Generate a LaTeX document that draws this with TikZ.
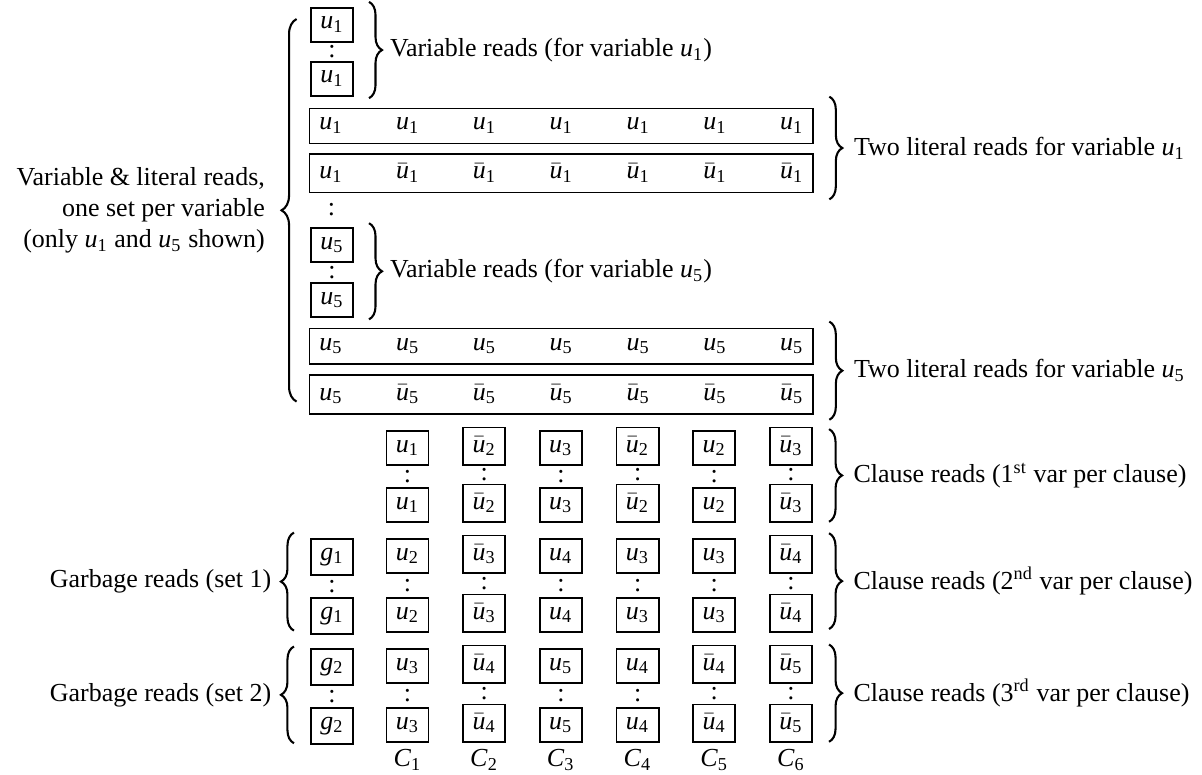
\documentclass[tikz,border=0pt]{standalone}
\usepackage{fontspec}
\setmainfont{Liberation Serif}
\usetikzlibrary{decorations.pathreplacing,fit,positioning}

\newcommand\lit[2]{\textit{#1}\textsubscript{#2}}
\newcommand\nlit[2]{$\bar{\mbox{\textit{#1}}}$\textsubscript{#2}}

\tikzset{
  rd/.style={draw,line width=0.7pt,minimum width=16.2pt,inner xsep=0pt,inner ysep=3.5pt,anchor=base},
  entry/.style={minimum width=16.2pt,inner xsep=0pt,inner ysep=3.5pt,anchor=base},
  litrow/.style={draw,line width=0.7pt,inner sep=0pt},
  rbrace/.style={decorate,decoration={brace,amplitude=5pt},line width=0.8pt},
  lbrace/.style={decorate,decoration={brace,amplitude=5pt},line width=0.8pt},
}

\begin{document}
\begin{tikzpicture}[x=0.385pt,y=-0.385pt]
\useasboundingbox (0,0) rectangle (1202,774);

% variable reads, u1
\node[rd] (v1a) at (332,29) {\lit{u}{1}};
\node[rd] (v1b) at (332,83) {\lit{u}{1}};
\path (v1a)--(v1b) node[midway] (v1d) {:};
\draw[rbrace] ([xshift=5.8pt,yshift=2pt]v1a.north east) -- ([xshift=5.8pt,yshift=-0.5pt]v1b.south east)
  node[midway,right=4.4pt] (v1t) {Variable reads (for variable \lit{u}{1})};

% literal reads, u1
\foreach \i in {1,...,7}
  \node[entry] (l1a-\i) at ({331+76.8*(\i-1)},130) {\lit{u}{1}};
\node[entry] (l1b-1) at (331,179) {\lit{u}{1}};
\foreach \i in {2,...,7}
  \node[entry] (l1b-\i) at ({331+76.8*(\i-1)},179) {\nlit{u}{1}};
\node[litrow,fit=(l1a-1)(l1a-7)] (l1a) {};
\node[litrow,fit=(l1b-1)(l1b-7)] (l1b) {};
\draw[rbrace] ([xshift=5.8pt,yshift=4.2pt]l1a.north east) -- ([xshift=5.8pt,yshift=-2.3pt]l1b.south east)
  node[midway,right=5.8pt] (l1t) {Two literal reads for variable \lit{u}{1}};

% variable reads, u5
\node[rd] (v5a) at (332,249) {\lit{u}{5}};
\node[rd] (v5b) at (332,304) {\lit{u}{5}};
\path (v5a)--(v5b) node[midway] (v5d) {:};
\path (l1b-1)--(v5a) node[midway] (md) {:};
\draw[rbrace] ([xshift=5.8pt,yshift=1.5pt]v5a.north east) -- ([xshift=5.8pt,yshift=-0.5pt]v5b.south east)
  node[midway,right=4.4pt] (v5t) {Variable reads (for variable \lit{u}{5})};

% literal reads, u5
\foreach \i in {1,...,7}
  \node[entry] (l5a-\i) at ({331+76.8*(\i-1)},350) {\lit{u}{5}};
\node[entry] (l5b-1) at (331,400) {\lit{u}{5}};
\foreach \i in {2,...,7}
  \node[entry] (l5b-\i) at ({331+76.8*(\i-1)},400) {\nlit{u}{5}};
\node[litrow,fit=(l5a-1)(l5a-7)] (l5a) {};
\node[litrow,fit=(l5b-1)(l5b-7)] (l5b) {};
\draw[rbrace] ([xshift=5.8pt,yshift=2.3pt]l5a.north east) -- ([xshift=5.8pt,yshift=-2pt]l5b.south east)
  node[midway,right=5.8pt] (l5t) {Two literal reads for variable \lit{u}{5}};

% one set per variable
\coordinate (blb) at ([xshift=-4.6pt,yshift=5pt]l5b.south west);
\coordinate (blt) at (blb |- v1a.north);
\draw[lbrace,decoration={amplitude=5.8pt}] (blb) -- ([yshift=-4.6pt]blt)
  node[midway,left=8.5pt,align=right] (vt) {Variable \& literal reads,\\one set per variable\\(only \lit{u}{1} and \lit{u}{5} shown)};

% clause reads
\foreach \lab [count=\i] in {{\lit{u}{1}},{\nlit{u}{2}},{\lit{u}{3}},{\nlit{u}{2}},{\lit{u}{2}},{\nlit{u}{3}}}{
  \node[rd] (c1a\i) at ({407.5+76.7*(\i-1)},452) {\lab};
  \node[rd] (c1b\i) at ({407.5+76.7*(\i-1)},509) {\lab};
  \path (c1a\i)--(c1b\i) node[midway] (c1d\i) {:};
}
\foreach \lab [count=\i] in {{\lit{u}{2}},{\nlit{u}{3}},{\lit{u}{4}},{\lit{u}{3}},{\lit{u}{3}},{\nlit{u}{4}}}{
  \node[rd] (c2a\i) at ({407.5+76.7*(\i-1)},560) {\lab};
  \node[rd] (c2b\i) at ({407.5+76.7*(\i-1)},619) {\lab};
  \path (c2a\i)--(c2b\i) node[midway] (c2d\i) {:};
}
\foreach \lab [count=\i] in {{\lit{u}{3}},{\nlit{u}{4}},{\lit{u}{5}},{\lit{u}{4}},{\nlit{u}{4}},{\nlit{u}{5}}}{
  \node[rd] (c3a\i) at ({407.5+76.7*(\i-1)},670) {\lab};
  \node[rd] (c3b\i) at ({407.5+76.7*(\i-1)},729) {\lab};
  \path (c3a\i)--(c3b\i) node[midway] (c3d\i) {:};
  \node[below=-1pt of c3b\i] (C\i) {\lit{C}{\i}};
}
\draw[rbrace] ([xshift=6.2pt,yshift=-1pt]c1a6.north east) -- ([xshift=6.2pt,yshift=0.5pt]c1b6.south east)
  node[midway,right=5.7pt] (c1t) {Clause reads (1\textsuperscript{st} var per clause)};
\draw[rbrace] ([xshift=6.2pt,yshift=0.5pt]c2a6.north east) -- ([xshift=6.2pt,yshift=1.5pt]c2b6.south east)
  node[midway,right=5.7pt] (c2t) {Clause reads (2\textsuperscript{nd} var per clause)};
\draw[rbrace] ([xshift=6.2pt]c3a6.north east) -- ([xshift=6.2pt,yshift=0.5pt]c3b6.south east)
  node[midway,right=5.7pt] (c3t) {Clause reads (3\textsuperscript{rd} var per clause)};

% garbage reads
\node[rd] (g1a) at (332,560) {\lit{g}{1}};
\node[rd] (g1b) at (332,619) {\lit{g}{1}};
\path (g1a)--(g1b) node[midway] (g1d) {:};
\node[rd] (g2a) at (332,670) {\lit{g}{2}};
\node[rd] (g2b) at (332,729) {\lit{g}{2}};
\path (g2a)--(g2b) node[midway] (g2d) {:};
\draw[lbrace] ([xshift=-6.2pt,yshift=1.5pt]g1b.south west) -- ([xshift=-6.2pt,yshift=2pt]g1a.north west)
  node[midway,left=5pt] (g1t) {Garbage reads (set 1)};
\draw[lbrace] ([xshift=-6.2pt,yshift=0.5pt]g2b.south west) -- ([xshift=-6.2pt,yshift=0.5pt]g2a.north west)
  node[midway,left=5pt] (g2t) {Garbage reads (set 2)};
\end{tikzpicture}
\end{document}
